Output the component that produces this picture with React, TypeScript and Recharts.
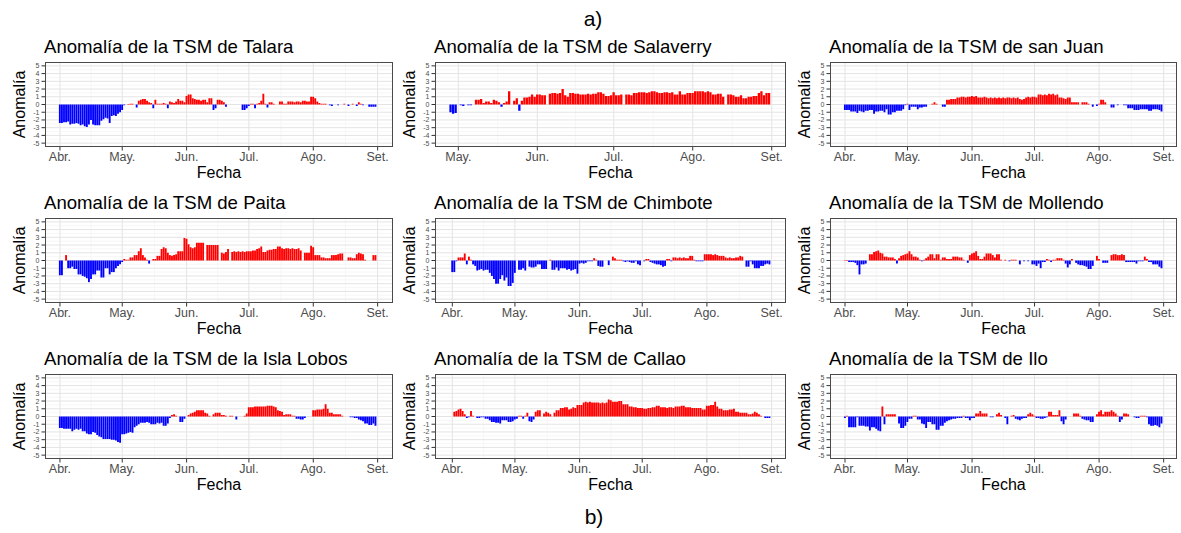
import React from 'react';
import { BarChart, Bar, XAxis, YAxis, CartesianGrid, Cell } from 'recharts';

// day index 0 = 1 Apr ... 152 = 31 Aug
const MONTH_TICKS = [0, 30, 61, 91, 122, 153];
const MONTH_LABELS = ['Abr.', 'May.', 'Jun.', 'Jul.', 'Ago.', 'Set.'];
const Y_TICKS = [-5, -4, -3, -2, -1, 0, 1, 2, 3, 4, 5];
const Y_MINOR = [-4.5, -3.5, -2.5, -1.5, -0.5, 0.5, 1.5, 2.5, 3.5, 4.5];

const N = null;

const TALARA = [
  -2.4, -2.4, -2.3, -2.3, -2.2, -2.6, -2.5, -2.5, -2.4, -2.5, -2.7, -2.6, -2.8, -2.9, -2.6, -2.0, -2.6, -2.7, -2.7, -2.7, -2.1, -1.9, -1.7, -1.8, -2.4, -1.5, -1.4, -1.5, -1.2, -1.0,
  -0.7, -0.1, 0.0, 0.05, 0.1, 0.1, 0.0, -0.4, 0.5, 0.6, 0.7, 0.7, 0.5, 0.3, 0.2, -0.5, 0.6, 0.1, 0.1, 0.1, 0.2, 0.1, -0.5, 0.4, 0.3, 0.2, 0.4, 0.7, 0.5, 0.5, 0.3,
  1.1, 1.3, 1.3, 0.8, 0.7, 0.6, 0.6, 0.5, 0.6, 0.6, 0.3, 0.8, 0.8, -0.7, -0.5, 0.6, 0.6, 0.5, 0.3, -0.3, N, N, N, N, N, N, N, -0.7, -0.7, -0.5,
  -0.2, 0.1, 0.1, -0.5, 0.1, 0.2, 0.5, 1.4, 0.1, -0.4, 0.3, 0.3, 0.1, N, 0.0, 0.4, 0.4, 0.1, 0.1, 0.4, 0.4, 0.4, 0.3, 0.4, 0.4, 0.3, 0.5, 0.5, 0.4, 0.4, 1.0,
  1.0, 0.8, 0.4, 0.2, 0.1, 0.1, 0.1, 0.0, -0.1, -0.2, 0.0, 0.0, -0.1, 0.0, 0.0, 0.1, 0.0, -0.2, 0.0, 0.1, 0.0, -0.2, 0.3, 0.1, -0.1, 0.0, 0.0, -0.3, -0.3, -0.3, -0.3,
];

const SALAVERRY = [
  N, N, N, N, N, N, N, N, N, N, N, N, N, N, N, N, N, N, N, N, N, N, N, N, N, N, N, -1.0, -1.2, -1.1,
  0.0, -0.1, -0.2, 0.0, -0.1, -0.1, 0.0, 0.6, 0.6, 0.7, 0.2, 0.4, 0.4, 0.2, 0.6, 0.5, 0.3, -0.3, 0.2, 0.4, 1.7, 0.0, 0.5, 0.8, -0.8, 0.5, 0.9, 0.9, 1.0, 1.3, 1.0,
  1.3, 1.3, 1.2, 1.2, N, 1.4, 1.5, 1.5, 1.4, 1.5, 2.0, 1.2, 1.0, 1.5, 1.5, 1.4, 1.4, 1.3, 1.3, 1.3, 1.4, 1.3, 1.4, 1.4, 1.6, 1.6, 1.4, 1.1, 1.1, 1.2,
  1.6, 1.2, 1.2, 1.3, N, 1.3, 1.3, 1.2, 1.5, 1.5, 1.6, 1.6, 1.6, 1.5, 1.6, 1.7, 1.7, 1.6, 1.5, 1.5, 1.6, 1.6, 1.5, 1.6, 1.3, 1.3, 1.7, 1.3, 1.3, 1.5, 1.5,
  1.5, 1.7, 1.7, 1.7, 1.7, 1.6, 1.7, 1.6, 1.3, 1.3, 1.4, 1.4, 1.0, N, 1.3, 1.3, 1.2, 1.0, 1.0, 1.2, 0.8, 0.8, 1.0, 1.0, 1.1, 1.1, 1.5, 1.7, 1.2, 1.5, 1.5,
];

const SAN_JUAN = [
  -0.7, -0.7, -0.7, -0.9, -0.9, -0.9, -1.1, -0.8, -0.9, -1.0, -0.8, -0.8, -0.7, -0.7, -1.2, -0.9, -0.9, -0.8, -0.8, -1.0, -0.6, -1.3, -1.3, -1.0, -1.0, -0.8, -0.8, -0.8, -0.6, -0.1,
  0.1, -0.7, -0.3, -0.3, -0.3, -0.6, -0.4, -0.4, -0.3, -0.3, 0.0, 0.0, 0.1, 0.3, 0.1, 0.0, 0.0, -0.3, -0.3, 0.6, 0.6, 0.7, 0.7, 0.7, 0.9, 0.9, 1.0, 1.0, 0.9, 1.0, 1.0,
  1.1, 1.0, 1.1, 0.9, 0.9, 0.9, 1.0, 0.9, 0.8, 0.9, 0.8, 0.9, 0.8, 0.9, 0.8, 0.9, 0.8, 0.9, 0.9, 0.8, 0.9, 0.8, 0.9, 0.7, 0.6, 0.7, 0.9, 1.0, 0.9, 1.0,
  1.0, 0.9, 1.3, 1.3, 1.2, 1.3, 1.2, 1.4, 1.3, 1.4, 1.2, 1.3, 0.9, 0.9, 0.8, 0.7, 0.9, 0.9, 0.3, 0.3, 0.3, 0.3, 0.0, 0.3, 0.3, 0.3, 0.1, 0.0, -0.3, 0.0, -0.2,
  0.1, 0.6, 0.6, 0.3, 0.0, 0.0, -0.4, -0.4, 0.0, -0.1, 0.0, 0.0, -0.1, -0.1, -0.5, -0.5, -0.5, -0.7, -0.7, -0.7, -0.6, -0.6, -0.6, -0.6, -0.8, -0.8, -0.6, -0.6, -0.6, -0.7, -0.9,
];

const PAITA = [
  -1.9, -1.9, 0.0, 0.7, -1.0, -1.0, -0.8, -1.1, -1.1, -1.8, -1.8, -2.0, -2.1, -2.3, -2.8, -2.4, -1.8, -1.8, -1.3, -1.3, -2.2, -2.2, -1.0, -1.0, -1.8, -1.5, -1.5, -1.0, -0.7, -0.5,
  -0.2, 0.2, 0.1, 0.1, 0.4, 0.4, 0.7, 0.7, 1.2, 1.6, 0.7, 0.4, 0.1, -0.4, 0.0, 0.2, 0.2, 0.6, 0.6, 1.5, 1.7, 1.6, 1.0, 0.7, 0.6, 0.7, 0.8, 1.2, 1.2, 1.2, 2.9,
  2.8, 2.1, 1.7, 1.6, 1.7, 2.3, 2.3, 2.3, 2.3, N, 2.0, 2.0, 2.0, 2.0, 2.0, 2.0, N, 1.0, 0.9, 1.1, 1.5, N, 1.1, 1.2, 1.1, 1.2, 1.1, 1.2, 1.1, 1.2,
  1.2, 1.2, 1.3, 1.3, 1.5, 1.6, 1.8, 1.1, 1.1, 1.3, 1.4, 1.4, 1.5, 1.5, 1.8, 1.8, 1.6, 1.5, 1.6, 1.6, 1.5, 1.6, 1.5, 1.5, 1.6, 1.3, N, 1.0, 1.0, 1.0, 1.9,
  1.7, 0.7, 0.7, 0.7, 0.4, 0.4, 0.3, 0.3, 0.3, 0.7, 0.7, 0.7, 0.8, 0.9, 0.9, 0.0, 0.0, 0.4, 0.4, 0.3, 0.3, 0.8, 1.0, 0.9, 0.8, 0.1, 0.0, 0.0, 0.0, 0.7, 0.7,
];

const CHIMBOTE = [
  -1.5, -1.5, -0.1, 0.4, 0.4, 0.4, 0.9, -0.5, 0.5, 0.1, -0.5, -0.7, -1.3, -1.2, -1.1, -1.3, -1.2, -1.2, -1.6, -2.0, -2.4, -3.0, -3.0, -2.4, -1.9, -2.6, -2.2, -3.3, -3.3, -2.9,
  -1.6, 0.0, -1.2, -1.2, -1.0, -1.3, 0.0, -0.8, -0.9, -0.9, -0.8, -0.5, -0.5, -1.1, -1.1, -1.1, 0.0, 0.1, -1.2, -1.2, -0.9, -1.3, -1.0, -1.0, -1.0, -1.2, -1.1, -1.3, -1.2, -1.1, -1.7,
  -0.4, -0.3, -0.4, -0.3, -0.1, -0.1, -0.1, 0.3, 0.1, -0.7, -0.8, -0.8, 0.0, 0.0, -0.6, 0.0, 0.5, 0.3, 0.1, 0.1, 0.1, -0.1, -0.2, -0.1, -0.2, -0.3, -0.3, -0.1, -0.5, -0.6,
  0.0, -0.1, 0.2, 0.2, -0.2, -0.3, -0.4, -0.5, -0.5, -0.6, -0.8, -0.7, 0.2, 0.2, -0.1, 0.4, 0.4, 0.3, 0.4, 0.3, 0.4, 0.3, 0.3, 0.6, 0.6, 0.1, -0.1, -0.1, -0.1, -0.1, 0.8,
  0.8, 0.8, 0.8, 0.7, 0.8, 0.7, 0.6, 0.6, 0.6, 0.4, 0.3, 0.4, 0.3, 0.3, 0.4, 0.4, 0.6, 0.5, 0.0, -0.8, -0.8, -0.1, -0.5, -1.0, -1.0, -1.0, -0.7, -0.7, -0.5, -0.4, -0.5,
];

const MOLLENDO = [
  0.05, 0.05, -0.2, -0.2, -0.2, -0.3, -0.6, -1.8, -0.5, -0.5, -0.4, 0.0, 0.8, 0.8, 1.1, 1.2, 1.3, 1.0, 0.9, 0.5, 0.5, 0.4, 0.4, 0.4, 0.2, -0.4, 0.3, 0.6, 0.7, 0.8,
  0.9, 1.2, 0.8, 0.5, 0.5, 0.4, 0.1, -0.1, 0.1, 0.3, 0.5, 0.8, 0.8, 0.3, 0.8, 0.8, 0.1, 0.4, 0.4, 0.2, 0.2, 0.2, 0.5, 0.5, 0.5, 0.4, 0.4, 0.1, 0.0, -0.3, 0.7,
  0.9, 1.0, 1.2, 0.6, 0.2, 0.2, 0.5, 0.9, 0.9, 0.9, 0.7, 0.4, 0.8, 0.8, 0.1, 0.0, 0.1, 0.0, -0.1, 0.1, 0.1, 0.1, 0.0, -0.5, 0.0, -0.1, 0.0, -0.1, 0.0, -0.5,
  -0.5, -0.7, -0.4, -1.0, -0.2, -0.2, 0.2, 0.1, -0.2, 0.1, 0.1, 0.3, 0.3, 0.3, 0.1, -0.4, -0.9, -0.5, 0.2, 0.0, -0.3, -0.5, -0.6, -0.6, -0.7, -0.8, -1.1, -1.1, -0.7, 0.0, 0.6,
  0.2, 0.0, -0.3, -0.3, -0.3, 0.0, 0.7, 0.8, 0.8, 0.7, 0.7, 0.8, 0.7, -0.2, -0.2, -0.2, -0.2, -0.2, -0.4, -0.1, -0.1, -0.1, 0.5, 0.2, -0.2, -0.2, -0.5, -0.5, -0.5, -0.8, -1.0,
];

const ISLA_LOBOS = [
  -1.5, -1.5, -1.6, -1.6, -1.6, -1.6, -1.9, -1.7, -1.6, -1.7, -1.6, -1.9, -1.9, -2.2, -2.3, -2.3, -2.0, -2.1, -2.4, -2.6, -2.7, -2.9, -2.9, -2.9, -2.9, -3.0, -3.0, -3.1, -3.3, -3.4,
  -2.3, -2.3, -2.2, -2.1, -2.0, -2.1, -1.4, -1.2, -1.0, -0.8, -0.8, -0.8, -0.7, -0.8, -1.0, -1.0, -1.0, -0.8, -0.9, -0.8, -1.2, -1.2, -0.9, -0.2, 0.2, 0.3, 0.1, 0.0, -0.7, -0.7, -0.3,
  0.0, 0.2, 0.4, 0.5, 0.6, 0.8, 0.8, 0.8, 0.8, 0.5, 0.4, 0.1, 0.0, 0.3, 0.5, 0.5, 0.5, 0.2, 0.2, 0.1, 0.0, 0.1, 0.1, 0.0, -0.4, 0.0, 0.0, 0.0, 0.1, 0.4,
  1.2, 1.2, 1.2, 1.3, 1.3, 1.3, 1.3, 1.3, 1.3, 1.4, 1.4, 1.4, 1.3, 1.2, 0.8, 0.7, 0.6, 0.2, 0.3, 0.3, 0.3, 0.1, 0.1, -0.3, -0.3, -0.4, -0.4, -0.2, 0.0, 0.0, 0.0,
  0.8, 0.8, 0.9, 0.9, 0.9, 1.0, 1.6, 1.0, 0.5, 0.5, 0.3, 0.3, 0.3, 0.3, 0.1, 0.0, 0.0, 0.0, -0.1, -0.1, -0.2, -0.2, -0.4, -0.5, -0.6, -0.9, -0.9, -1.1, -1.1, -0.9, -1.2,
];

const CALLAO = [
  0.0, 0.6, 0.7, 0.9, 1.0, 0.7, 0.3, -0.2, -0.1, 0.7, 0.1, 0.0, -0.2, -0.2, -0.1, -0.1, -0.3, -0.3, -0.5, -0.7, -0.7, -0.8, -0.8, -0.9, -0.5, -0.5, -0.5, -0.7, -0.7, -0.6,
  -0.4, -0.3, 0.1, 0.1, -0.3, 0.1, 0.5, -0.6, -0.7, -0.4, 0.6, 0.8, 0.8, 0.0, 0.4, 0.6, 0.5, 0.3, 0.0, 0.5, 0.8, 0.8, 1.1, 1.1, 1.2, 1.2, 0.9, 1.0, 1.2, 1.1, 1.5,
  1.5, 1.5, 1.8, 1.9, 1.8, 1.9, 1.8, 1.8, 1.8, 1.8, 1.7, 1.8, 1.7, 1.8, 2.2, 2.1, 1.9, 1.9, 1.9, 2.0, 2.0, 1.6, 1.6, 1.6, 1.3, 1.3, 1.2, 1.2, 1.1, 1.1,
  1.1, 1.0, 1.0, 1.1, 1.1, 1.2, 1.2, 1.4, 1.4, 1.2, 1.2, 1.2, 1.1, 1.2, 1.2, 1.1, 1.3, 1.3, 1.3, 1.4, 1.4, 1.2, 1.2, 1.2, 1.1, 1.1, 1.1, 1.1, 1.1, 0.9, 0.9,
  1.4, 1.4, 1.5, 1.5, 1.9, 1.3, 1.0, 1.0, 0.8, 0.8, 0.8, 0.9, 0.9, 1.0, 0.6, 0.6, 0.5, 0.5, 0.5, 0.5, 0.3, 0.3, 0.4, 0.6, 0.5, 0.3, 0.1, 0.0, -0.2, -0.2, -0.2,
];

const ILO = [
  -0.2, 0.1, -1.4, -1.4, -1.4, -1.4, -0.1, -1.2, -1.2, -1.2, -1.3, -1.3, -1.8, -1.4, -1.4, -1.6, -1.8, -1.9, 1.3, -1.0, 0.3, 0.3, 0.3, 0.3, 0.3, 0.0, -0.9, -1.5, -1.5, -1.2,
  -0.7, -0.3, -0.3, 0.1, 0.1, -0.4, -0.4, -0.9, -1.0, -1.5, -0.7, -0.7, -1.0, -1.0, -1.7, -1.7, -1.2, -1.2, -0.8, -0.6, -0.5, -0.4, -0.3, -0.3, -0.2, -0.2, -0.2, 0.1, -0.2, -0.2, -0.5,
  -0.2, -0.2, 0.4, 0.4, 0.7, 0.4, 0.4, 0.4, 0.0, -0.1, -0.1, 0.0, 0.3, 0.5, 0.2, 0.0, -0.2, -1.0, 0.0, 0.1, 0.2, -0.3, -0.4, -0.5, -0.3, -0.2, -0.2, 0.3, 0.5, 0.3,
  0.1, -0.2, -0.2, -0.3, -0.3, -0.2, -0.1, 0.6, 0.6, 0.2, 0.2, 0.2, 0.8, -0.6, -1.0, -0.4, 0.0, 0.0, 0.0, 0.4, 0.4, 0.4, 0.1, -0.3, -0.4, -0.5, -0.5, -0.7, -0.7, 0.0, 0.3,
  0.6, 0.8, 0.3, 0.6, 0.6, 0.6, 0.8, 0.6, 0.4, 0.1, -0.7, -0.4, 0.4, 0.4, 0.3, 0.0, 0.0, -0.1, -0.2, -0.2, 0.1, 0.1, 0.1, -0.1, -1.0, -1.2, -1.2, -1.1, -1.2, -1.4, -0.9,
];

const STATIONS = ['Talara', 'Salaverry', 'san Juan', 'Paita', 'Chimbote', 'Mollendo', 'la Isla Lobos', 'Callao', 'Ilo'];
const SERIES = [TALARA, SALAVERRY, SAN_JUAN, PAITA, CHIMBOTE, MOLLENDO, ISLA_LOBOS, CALLAO, ILO];
// x-domain (in days) of each panel
const DOMAINS: [number, number][] = [
  [-7.2, 160.4], [20.85, 158.6], [-7.2, 159.4],
  [-7.2, 160.4], [-8.3, 159.9], [-7.2, 159.4],
  [-7.2, 160.4], [-8.3, 159.9], [-7.2, 159.4],
];

const RED = '#FF0000';
const BLUE = '#0000FF';
const FONT = '"Liberation Sans", Arial, Helvetica, sans-serif';

const COL_LEFT = [45, 435, 830];
const COL_RIGHT = [393, 786, 1177];
const ROW_TOP = [62, 218, 374];
const PLOT_H = 85;
const Y_AXIS_W = 40;
const PAD_TOP = 6;

function Panel({ idx }: { idx: number }) {
  const col = idx % 3;
  const row = Math.floor(idx / 3);
  const left = COL_LEFT[col];
  const top = ROW_TOP[row];
  const width = COL_RIGHT[col] - left;
  const domain = DOMAINS[idx];
  const data = SERIES[idx].map((v, i) => ({ day: i, v }));
  const inDomain = (t: number) => t > domain[0] && t < domain[1];
  const ticks = MONTH_TICKS.filter(inDomain);
  const minor = MONTH_TICKS.slice(1).map((t, i) => (t + MONTH_TICKS[i]) / 2).filter(inDomain);
  const barSize = (width / (domain[1] - domain[0])) * 0.9;

  return (
    <div style={{ position: 'absolute', left: left - Y_AXIS_W, top: top - PAD_TOP }}>
      <BarChart
        width={width + Y_AXIS_W}
        height={PLOT_H + PAD_TOP + 24}
        data={data}
        margin={{ top: PAD_TOP, right: 0, left: 0, bottom: 0 }}
      >
        <CartesianGrid stroke="#F3F3F3" strokeWidth={0.7} horizontalValues={Y_MINOR} verticalValues={minor} />
        <CartesianGrid stroke="#E4E4E4" strokeWidth={1} horizontalValues={Y_TICKS} verticalValues={ticks} />
        <XAxis
          type="number"
          dataKey="day"
          domain={domain}
          allowDataOverflow
          ticks={ticks}
          interval={0}
          tickFormatter={(t: number) => MONTH_LABELS[MONTH_TICKS.indexOf(t)]}
          axisLine={false}
          tickSize={3.5}
          tickMargin={2}
          tickLine={{ stroke: '#333333' }}
          tick={{ fontSize: 12.5, fill: '#4D4D4D', fontFamily: FONT }}
          height={24}
        />
        <YAxis
          type="number"
          domain={[-5.5, 5.5]}
          ticks={Y_TICKS}
          interval={0}
          width={Y_AXIS_W}
          axisLine={false}
          tickSize={3.5}
          tickMargin={2}
          tickLine={{ stroke: '#333333' }}
          tick={{ fontSize: 7, fill: '#4D4D4D', fontFamily: FONT }}
        />
        <Bar dataKey="v" isAnimationActive={false} barSize={barSize}>
          {data.map((d, i) => (
            <Cell key={i} fill={d.v !== null && d.v >= 0 ? RED : BLUE} />
          ))}
        </Bar>
      </BarChart>
      <div
        style={{
          position: 'absolute',
          left: Y_AXIS_W,
          top: PAD_TOP,
          width: width,
          height: PLOT_H,
          border: '1px solid #4a4a4a',
          boxSizing: 'border-box',
          pointerEvents: 'none',
        }}
      />
    </div>
  );
}

export default function App() {
  const labels: React.ReactNode[] = [];
  STATIONS.forEach((name, idx) => {
    const col = idx % 3;
    const row = Math.floor(idx / 3);
    const left = COL_LEFT[col];
    const top = ROW_TOP[row];
    const cx = (left + COL_RIGHT[col]) / 2;
    const cy = top + PLOT_H / 2;
    labels.push(
      <text key={'t' + idx} x={left - 1} y={top - 9.5} fontSize={18.6} fill="#000">
        {'Anomalía de la TSM de ' + name}
      </text>,
      <text key={'x' + idx} x={cx} y={top + 116.3} fontSize={16} fill="#000" textAnchor="middle">
        Fecha
      </text>,
      <text
        key={'y' + idx}
        x={left - 20.5}
        y={cy}
        fontSize={16}
        fill="#000"
        textAnchor="middle"
        transform={`rotate(-90, ${left - 20.5}, ${cy})`}
      >
        Anomalía
      </text>
    );
  });

  return (
    <div style={{ position: 'relative', width: 1181, height: 533, background: '#fff', fontFamily: FONT, overflow: 'hidden' }}>
      <style>{'body{margin:0}'}</style>
      {STATIONS.map((_, idx) => (
        <Panel key={idx} idx={idx} />
      ))}
      <svg width={1181} height={533} style={{ position: 'absolute', left: 0, top: 0, pointerEvents: 'none' }} fontFamily={FONT}>
        <text x={593} y={26} fontSize={21} textAnchor="middle" fill="#000">a)</text>
        <text x={594} y={523.5} fontSize={21} textAnchor="middle" fill="#000">b)</text>
        {labels}
      </svg>
    </div>
  );
}
